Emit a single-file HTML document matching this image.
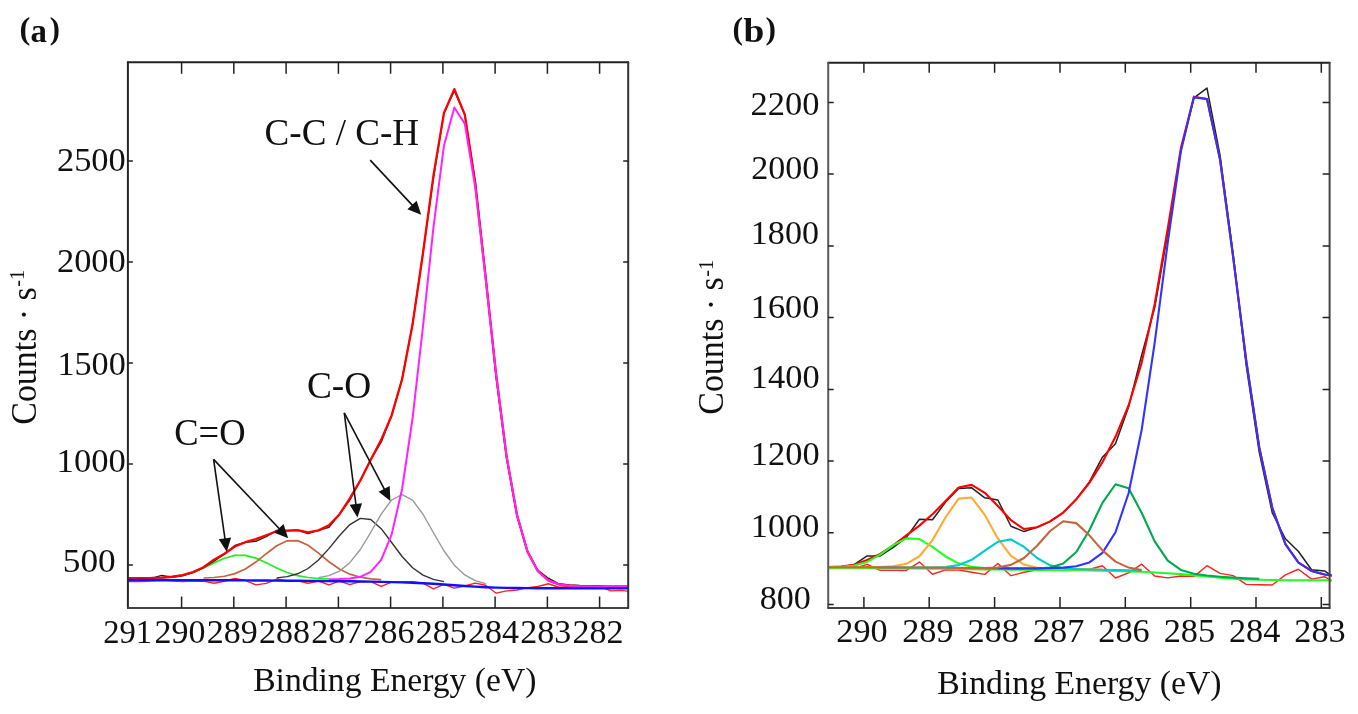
<!DOCTYPE html>
<html><head><meta charset="utf-8"><style>
html,body{margin:0;padding:0;background:#fff;width:1358px;height:714px;overflow:hidden}
svg{display:block;will-change:transform}
</style></head><body>
<svg width="1358" height="714" viewBox="0 0 1358 714">
<defs>
<clipPath id="clipA"><rect x="127.9" y="62.2" width="500.3" height="545.7"/></clipPath>
<clipPath id="clipB"><rect x="828.2" y="62.7" width="503.4" height="545.2"/></clipPath>
</defs>
<rect width="1358" height="714" fill="#fff"/>
<g clip-path="url(#clipA)">
<polyline points="119.94,581.48 130.39,581.50 140.84,581.52 151.30,581.05 161.75,580.57 172.19,581.09 182.64,581.61 193.09,581.14 203.55,581.18 214.00,583.22 224.44,581.25 234.89,578.33 245.34,580.41 255.80,584.86 266.25,583.32 276.69,579.03 287.14,580.72 297.59,580.81 308.05,583.29 318.50,580.99 328.94,584.87 339.39,581.19 349.84,584.70 360.30,581.47 370.75,581.67 381.19,586.45 391.64,582.10 402.09,581.90 412.55,581.76 423.00,583.22 433.44,588.78 443.89,584.45 454.34,588.19 464.80,585.95 475.25,583.14 485.69,585.19 496.14,593.19 506.59,590.88 517.05,590.03 527.50,587.64 537.94,586.49 548.39,583.73 558.84,587.26 569.30,586.78 579.75,586.80 590.19,586.82 600.64,586.86 611.09,590.86 621.55,590.39 632.00,591.81 642.44,591.83" fill="none" stroke="#ff2020" stroke-width="1.4" stroke-linejoin="round" />
<polyline points="161.75,577.60 172.19,576.76 182.64,575.06 193.09,572.14 203.55,567.91 214.00,562.90 224.44,558.23 234.89,555.36 245.34,555.32 255.80,558.14 266.25,562.85 276.69,568.02 287.14,572.44 297.59,575.58 308.05,577.48 318.50,578.48 328.94,578.97" fill="none" stroke="#22ee22" stroke-width="1.7" stroke-linejoin="round" />
<polyline points="203.55,578.00 214.00,577.50 224.44,576.24 234.89,573.60 245.34,568.95 255.80,562.06 266.25,553.71 276.69,545.80 287.14,540.83 297.59,540.61 308.05,545.26 318.50,553.12 328.94,561.72 339.39,569.02 349.84,574.14 360.30,577.20 370.75,578.82 381.19,579.64" fill="none" stroke="#c8643c" stroke-width="1.7" stroke-linejoin="round" />
<polyline points="276.69,577.88 287.14,576.60 297.59,573.79 308.05,568.50 318.50,560.05 328.94,548.60 339.39,535.76 349.84,524.57 360.30,518.37 370.75,519.54 381.19,528.69 391.64,542.50 402.09,556.54 412.55,567.72 423.00,575.09 433.44,579.35 443.89,581.65" fill="none" stroke="#333" stroke-width="1.4" stroke-linejoin="round" />
<polyline points="318.50,577.77 328.94,575.68 339.39,571.12 349.84,562.69 360.30,549.50 370.75,532.27 381.19,514.11 391.64,500.00 402.09,494.70 412.55,500.08 423.00,514.22 433.44,532.73 443.89,550.77 454.34,565.18 464.80,574.94 475.25,580.69 485.69,583.71" fill="none" stroke="#999" stroke-width="1.4" stroke-linejoin="round" />
<polyline points="119.94,578.83 130.39,578.84 140.84,578.81 151.30,578.45 161.75,575.35 172.19,577.25 182.64,575.78 193.09,572.55 203.55,567.75 214.00,561.16 224.44,554.26 234.89,545.48 245.34,542.23 255.80,541.29 266.25,536.65 276.69,530.43 287.14,530.71 297.59,530.22 308.05,533.56 318.50,530.39 328.94,527.25 339.39,514.43 349.84,500.12 360.30,480.51 370.75,459.68 381.19,442.16 391.64,415.44 402.09,378.97 412.55,324.08 423.00,252.98 433.44,178.06 443.89,113.32 454.34,90.63 464.80,114.64 475.25,181.62 485.69,276.56 496.14,377.39 506.59,458.05 517.05,516.26 527.50,551.34 537.94,570.31 548.39,578.19 558.84,583.81 569.30,585.00 579.75,585.48 590.19,585.63 600.64,585.69 611.09,587.71 621.55,587.49 632.00,588.21 642.44,588.23" fill="none" stroke="#222" stroke-width="1.4" stroke-linejoin="round" />
<polyline points="119.94,578.08 130.39,578.09 140.84,578.06 151.30,577.95 161.75,577.60 172.19,576.75 182.64,575.04 193.09,572.05 203.55,567.24 214.00,559.66 224.44,553.77 234.89,546.48 245.34,542.22 255.80,539.09 266.25,535.26 276.69,531.23 287.14,530.71 297.59,530.22 308.05,532.37 318.50,530.39 328.94,525.36 339.39,514.43 349.84,498.42 360.30,480.51 370.75,459.67 381.19,439.86 391.64,415.44 402.09,379.22 412.55,324.58 423.00,252.98 433.44,175.57 443.89,113.32 454.34,89.13 464.80,114.64 475.25,183.37 485.69,277.56 496.14,374.59 506.59,456.55 517.05,515.27 527.50,551.59 537.94,571.17 548.39,580.44 558.84,584.31 569.30,585.75 579.75,586.23 590.19,586.38 600.64,586.44 611.09,586.46 621.55,586.49 632.00,586.51 642.44,586.53" fill="none" stroke="#ff0000" stroke-width="2.3" stroke-linejoin="round" />
<polyline points="328.94,579.13 339.39,579.06 349.84,578.58 360.30,576.83 370.75,571.86 381.19,559.79 391.64,534.55 402.09,488.99 412.55,418.51 423.00,326.31 433.44,227.29 443.89,146.01 454.34,107.53 464.80,123.83 475.25,187.43 485.69,279.15 496.14,375.14 506.59,456.71 517.05,515.31 527.50,551.60 537.94,571.17 548.39,580.44 558.84,584.31 569.30,585.75 579.75,586.23 590.19,586.38 600.64,586.44 611.09,586.46 621.55,586.49 632.00,586.51 642.44,586.53" fill="none" stroke="#ff22ff" stroke-width="2.0" stroke-linejoin="round" />
<polyline points="119.94,579.98 130.39,580.00 140.84,580.03 151.30,580.05 161.75,580.07 172.19,580.09 182.64,580.12 193.09,580.14 203.55,580.18 214.00,580.22 224.44,580.27 234.89,580.32 245.34,580.39 255.80,580.46 266.25,580.54 276.69,580.63 287.14,580.72 297.59,580.81 308.05,580.90 318.50,580.99 328.94,581.09 339.39,581.19 349.84,581.31 360.30,581.46 370.75,581.65 381.19,581.86 391.64,582.10 402.09,582.40 412.55,582.76 423.00,583.22 433.44,583.80 443.89,584.45 454.34,585.20 464.80,585.95 475.25,586.63 485.69,587.19 496.14,587.60 506.59,587.88 517.05,588.04 527.50,588.14 537.94,588.20 548.39,588.23 558.84,588.26 569.30,588.28 579.75,588.30 590.19,588.32 600.64,588.35 611.09,588.37 621.55,588.39 632.00,588.41 642.44,588.43" fill="none" stroke="#1010ff" stroke-width="2.4" stroke-linejoin="round" />
</g>
<path d="M127.9 62.2H628.2" stroke="#222" stroke-width="2" stroke-linecap="round"/><path d="M127.9 62.2V607.9" stroke="#262626" stroke-width="2" stroke-linecap="round"/><path d="M127.9 607.9H628.2" stroke="#444" stroke-width="2" stroke-linecap="round"/><path d="M628.2 62.2V607.9" stroke="#333" stroke-width="2" stroke-linecap="round"/>
<path d="M599.6 607.9V596.4M599.6 62.2V73.7M547.4 607.9V596.4M547.4 62.2V73.7M495.1 607.9V596.4M495.1 62.2V73.7M442.9 607.9V596.4M442.9 62.2V73.7M390.6 607.9V596.4M390.6 62.2V73.7M338.4 607.9V596.4M338.4 62.2V73.7M286.1 607.9V596.4M286.1 62.2V73.7M233.8 607.9V596.4M233.8 62.2V73.7M181.6 607.9V596.4M181.6 62.2V73.7M127.9 565.0H132.9M628.2 565.0H623.2M127.9 464.0H132.9M628.2 464.0H623.2M127.9 363.0H132.9M628.2 363.0H623.2M127.9 262.0H132.9M628.2 262.0H623.2M127.9 161.0H132.9M628.2 161.0H623.2" stroke="#222" stroke-width="1.5" fill="none"/>
<g clip-path="url(#clipB)">
<polyline points="814.89,568.30 827.96,568.30 841.03,568.30 854.10,568.30 867.17,564.32 880.24,570.34 893.31,570.38 906.38,570.46 919.45,562.09 932.52,574.26 945.59,569.81 958.66,569.98 971.73,572.20 984.80,574.39 997.87,563.58 1010.94,575.68 1024.01,572.29 1037.08,569.89 1050.15,569.99 1063.22,570.12 1076.29,570.28 1089.36,569.47 1102.43,565.72 1115.50,577.99 1128.57,572.88 1141.64,564.16 1154.71,576.03 1167.78,577.89 1180.85,575.97 1193.92,576.62 1206.99,565.67 1220.06,573.39 1233.13,575.68 1246.20,584.35 1259.27,584.81 1272.34,585.03 1285.41,574.88 1298.48,569.26 1311.55,579.07 1324.62,576.72 1337.69,584.30" fill="none" stroke="#ff2020" stroke-width="1.4" stroke-linejoin="round" />
<polyline points="814.89,567.09 827.96,567.01 841.03,566.64 854.10,564.67 867.17,555.94 880.24,555.99 893.31,547.40 906.38,537.36 919.45,519.19 932.52,519.81 945.59,502.09 958.66,488.55 971.73,487.86 984.80,497.86 997.87,499.96 1010.94,526.23 1024.01,531.57 1037.08,527.31 1050.15,521.40 1063.22,512.58 1076.29,499.32 1089.36,481.87 1102.43,457.20 1115.50,443.83 1128.57,407.01 1141.64,355.16 1154.71,307.56 1167.78,233.02 1180.85,150.14 1193.92,97.94 1206.99,88.03 1220.06,155.29 1233.13,253.84 1246.20,365.41 1259.27,452.41 1272.34,513.03 1285.41,538.74 1298.48,551.55 1311.55,569.76 1324.62,570.93 1337.69,579.99" fill="none" stroke="#222" stroke-width="1.5" stroke-linejoin="round" />
<polyline points="814.89,567.09 827.96,567.01 841.03,566.64 854.10,564.67 867.17,559.93 880.24,553.99 893.31,545.40 906.38,535.36 919.45,525.64 932.52,514.22 945.59,501.08 958.66,487.55 971.73,484.86 984.80,492.86 997.87,505.94 1010.94,520.24 1024.01,529.07 1037.08,527.30 1050.15,521.40 1063.22,512.58 1076.29,499.32 1089.36,482.87 1102.43,462.17 1115.50,436.84 1128.57,405.50 1141.64,362.83 1154.71,303.96 1167.78,228.32 1180.85,148.34 1193.92,96.66 1206.99,98.92 1220.06,159.61 1233.13,256.82 1246.20,360.41 1259.27,447.41 1272.34,508.06 1285.41,544.04 1298.48,562.54 1311.55,570.96 1324.62,574.50 1337.69,575.99" fill="none" stroke="#ff0000" stroke-width="2.1" stroke-linejoin="round" />
<polyline points="814.89,568.30 827.96,568.30 841.03,568.30 854.10,568.30 867.17,568.31 880.24,568.34 893.31,568.38 906.38,568.46 919.45,568.55 932.52,568.66 945.59,568.80 958.66,568.98 971.73,569.19 984.80,569.39 997.87,569.56 1010.94,569.69 1024.01,569.80 1037.08,569.89 1050.15,569.99 1063.22,570.12 1076.29,570.28 1089.36,570.46 1102.43,570.70 1115.50,570.99 1128.57,571.37 1141.64,571.82 1154.71,572.43 1167.78,573.19 1180.85,574.17 1193.92,575.33 1206.99,576.56 1220.06,577.71 1233.13,578.66 1246.20,579.35 1259.27,579.81 1272.34,580.06 1285.41,580.19 1298.48,580.25 1311.55,580.28 1324.62,580.30 1337.69,580.30" fill="none" stroke="#22ff22" stroke-width="2.1" stroke-linejoin="round" />
<polyline points="814.89,567.29 827.96,567.23 841.03,566.89 854.10,565.58 867.17,561.89 880.24,554.63 893.31,545.12 906.38,538.33 919.45,539.07 932.52,546.86 945.59,556.45 958.66,563.35 971.73,566.78 984.80,568.07 997.87,568.50 1010.94,568.68 1024.01,568.80 1037.08,568.89 1050.15,568.99" fill="none" stroke="#22ff22" stroke-width="2.1" stroke-linejoin="round" />
<polyline points="827.96,567.21 841.03,567.19 854.10,567.17 867.17,567.13 880.24,567.01 893.31,566.38 906.38,563.84 919.45,556.23 932.52,540.12 945.59,517.26 958.66,498.65 971.73,497.56 984.80,515.00 997.87,538.41 1010.94,555.87 1024.01,564.58 1037.08,567.71 1050.15,568.62 1063.22,568.93 1076.29,569.14 1089.36,569.35 1102.43,569.61" fill="none" stroke="#ffaa33" stroke-width="2.1" stroke-linejoin="round" />
<polyline points="880.24,567.34 893.31,567.38 906.38,567.46 919.45,567.53 932.52,567.53 945.59,567.08 958.66,565.09 971.73,559.78 984.80,550.73 997.87,541.76 1010.94,539.37 1024.01,546.88 1037.08,557.98 1050.15,565.37 1063.22,568.32 1076.29,569.16 1089.36,569.45 1102.43,569.69 1115.50,569.99 1128.57,570.37 1141.64,570.82" fill="none" stroke="#00cccc" stroke-width="2.1" stroke-linejoin="round" />
<polyline points="984.80,568.39 997.87,568.56 1010.94,568.69 1024.01,568.76 1037.08,568.62 1050.15,567.58 1063.22,563.43 1076.29,552.06 1089.36,530.31 1102.43,502.83 1115.50,484.27 1128.57,488.18 1141.64,512.81 1154.71,541.32 1167.78,560.70 1180.85,569.95 1193.92,573.67 1206.99,575.46 1220.06,576.70 1233.13,577.66 1246.20,578.35 1259.27,578.81" fill="none" stroke="#00a850" stroke-width="2.1" stroke-linejoin="round" />
<polyline points="997.87,568.12 1010.94,568.19 1024.01,568.22 1037.08,568.20 1050.15,568.08 1063.22,567.66 1076.29,566.30 1089.36,562.45 1102.43,552.90 1115.50,532.22 1128.57,493.26 1141.64,430.02 1154.71,342.66 1167.78,242.34 1180.85,151.60 1193.92,97.35 1206.99,99.05 1220.06,159.65 1233.13,256.85 1246.20,360.43 1259.27,447.43 1272.34,508.08 1285.41,544.06 1298.48,562.56 1311.55,570.98 1324.62,574.52 1337.69,576.00" fill="none" stroke="#3333ff" stroke-width="2.1" stroke-linejoin="round" />
<polyline points="814.89,567.30 827.96,567.30 841.03,567.30 854.10,567.30 867.17,567.31 880.24,567.34 893.31,567.38 906.38,567.46 919.45,567.55 932.52,567.66 945.59,567.80 958.66,567.98 971.73,568.16 984.80,568.17 997.87,567.51 1010.94,564.85 1024.01,558.04 1037.08,545.80 1050.15,531.01 1063.22,521.28 1076.29,523.12 1089.36,535.35 1102.43,550.39 1115.50,561.62 1128.57,567.59 1141.64,570.12" fill="none" stroke="#c8643c" stroke-width="2.1" stroke-linejoin="round" />
</g>
<path d="M828.2 62.7H1329.6" stroke="#222" stroke-width="2" stroke-linecap="round"/><path d="M828.2 62.7V607.9" stroke="#5a5a5a" stroke-width="2" stroke-linecap="round"/><path d="M828.2 607.9H1329.6" stroke="#444" stroke-width="2" stroke-linecap="round"/><path d="M1329.6 62.7V607.9" stroke="#444" stroke-width="2" stroke-linecap="round"/>
<path d="M1321.3 607.9V596.9M1321.3 62.7V72.7M1256.0 607.9V596.9M1256.0 62.7V72.7M1190.7 607.9V596.9M1190.7 62.7V72.7M1125.3 607.9V596.9M1125.3 62.7V72.7M1060.0 607.9V596.9M1060.0 62.7V72.7M994.6 607.9V596.9M994.6 62.7V72.7M929.2 607.9V596.9M929.2 62.7V72.7M863.9 607.9V596.9M863.9 62.7V72.7M828.2 604.6H833.7M1329.6 604.6H1322.6M828.2 532.8H833.7M1329.6 532.8H1322.6M828.2 461.1H833.7M1329.6 461.1H1322.6M828.2 389.4H833.7M1329.6 389.4H1322.6M828.2 317.6H833.7M1329.6 317.6H1322.6M828.2 245.9H833.7M1329.6 245.9H1322.6M828.2 174.1H833.7M1329.6 174.1H1322.6M828.2 102.4H833.7M1329.6 102.4H1322.6" stroke="#222" stroke-width="1.5" fill="none"/>
<text x="91.35" y="170.90" font-family="Liberation Serif" font-size="33.30" text-anchor="middle" textLength="68.85" lengthAdjust="spacingAndGlyphs" fill="#111">2500</text>
<text x="91.35" y="272.20" font-family="Liberation Serif" font-size="33.30" text-anchor="middle" textLength="68.84" lengthAdjust="spacingAndGlyphs" fill="#111">2000</text>
<text x="91.60" y="375.00" font-family="Liberation Serif" font-size="33.30" text-anchor="middle" textLength="68.41" lengthAdjust="spacingAndGlyphs" fill="#111">1500</text>
<text x="91.20" y="472.30" font-family="Liberation Serif" font-size="33.30" text-anchor="middle" textLength="69.26" lengthAdjust="spacingAndGlyphs" fill="#111">1000</text>
<text x="89.30" y="572.20" font-family="Liberation Serif" font-size="33.30" text-anchor="middle" textLength="53.00" lengthAdjust="spacingAndGlyphs" fill="#111">500</text>
<text x="785.10" y="115.40" font-family="Liberation Serif" font-size="33.30" text-anchor="middle" textLength="68.94" lengthAdjust="spacingAndGlyphs" fill="#111">2200</text>
<text x="785.30" y="178.90" font-family="Liberation Serif" font-size="33.30" text-anchor="middle" textLength="68.11" lengthAdjust="spacingAndGlyphs" fill="#111">2000</text>
<text x="784.90" y="244.10" font-family="Liberation Serif" font-size="33.30" text-anchor="middle" textLength="68.18" lengthAdjust="spacingAndGlyphs" fill="#111">1800</text>
<text x="785.10" y="318.00" font-family="Liberation Serif" font-size="33.30" text-anchor="middle" textLength="68.63" lengthAdjust="spacingAndGlyphs" fill="#111">1600</text>
<text x="785.20" y="388.00" font-family="Liberation Serif" font-size="33.30" text-anchor="middle" textLength="68.82" lengthAdjust="spacingAndGlyphs" fill="#111">1400</text>
<text x="785.20" y="464.90" font-family="Liberation Serif" font-size="33.30" text-anchor="middle" textLength="68.82" lengthAdjust="spacingAndGlyphs" fill="#111">1200</text>
<text x="785.10" y="537.40" font-family="Liberation Serif" font-size="33.30" text-anchor="middle" textLength="68.63" lengthAdjust="spacingAndGlyphs" fill="#111">1000</text>
<text x="785.30" y="609.00" font-family="Liberation Serif" font-size="33.30" text-anchor="middle" textLength="51.20" lengthAdjust="spacingAndGlyphs" fill="#111">800</text>
<text x="127.60" y="642.60" font-family="Liberation Serif" font-size="33.30" text-anchor="middle" textLength="48.88" lengthAdjust="spacingAndGlyphs" fill="#111">291</text>
<text x="180.05" y="642.60" font-family="Liberation Serif" font-size="33.30" text-anchor="middle" textLength="50.99" lengthAdjust="spacingAndGlyphs" fill="#111">290</text>
<text x="862.05" y="642.20" font-family="Liberation Serif" font-size="33.30" text-anchor="middle" textLength="51.41" lengthAdjust="spacingAndGlyphs" fill="#111">290</text>
<text x="253.15" y="690.60" font-family="Liberation Serif" font-size="32.80" text-anchor="start" textLength="283.23" lengthAdjust="spacingAndGlyphs" fill="#111">Binding Energy (eV)</text>
<text x="937.30" y="694.10" font-family="Liberation Serif" font-size="32.80" text-anchor="start" textLength="284.32" lengthAdjust="spacingAndGlyphs" fill="#111">Binding Energy (eV)</text>
<text x="264.55" y="144.80" font-family="Liberation Serif" font-size="37.00" text-anchor="start" textLength="154.53" lengthAdjust="spacingAndGlyphs" fill="#111">C-C / C-H</text>
<text x="306.95" y="397.90" font-family="Liberation Serif" font-size="37.00" text-anchor="start" textLength="64.27" lengthAdjust="spacingAndGlyphs" fill="#111">C-O</text>
<text x="174.25" y="445.20" font-family="Liberation Serif" font-size="37.00" text-anchor="start" textLength="71.25" lengthAdjust="spacingAndGlyphs" fill="#111">C=O</text>
<text transform="translate(35.80,424.70) rotate(-90)" font-family="Liberation Serif" font-size="34.75" textLength="137.44" lengthAdjust="spacingAndGlyphs" fill="#111">Counts · s</text>
<text transform="translate(24.20,286.80) rotate(-90)" font-family="Liberation Serif" font-size="21.96" textLength="16.89" lengthAdjust="spacingAndGlyphs" fill="#111">-1</text>
<text transform="translate(723.40,414.70) rotate(-90)" font-family="Liberation Serif" font-size="34.75" textLength="137.44" lengthAdjust="spacingAndGlyphs" fill="#111">Counts · s</text>
<text transform="translate(712.70,276.80) rotate(-90)" font-family="Liberation Serif" font-size="21.96" textLength="16.89" lengthAdjust="spacingAndGlyphs" fill="#111">-1</text>
<text x="19.40" y="39.00" font-family="Liberation Serif" font-size="30.50" text-anchor="start" font-weight="bold" textLength="10.85" lengthAdjust="spacingAndGlyphs" fill="#111">(</text>
<text x="30.60" y="41.60" font-family="Liberation Serif" font-size="34.50" text-anchor="start" font-weight="bold" textLength="16.44" lengthAdjust="spacingAndGlyphs" fill="#111">a</text>
<text x="49.70" y="39.00" font-family="Liberation Serif" font-size="30.50" text-anchor="start" font-weight="bold" textLength="10.21" lengthAdjust="spacingAndGlyphs" fill="#111">)</text>
<text x="732.60" y="39.00" font-family="Liberation Serif" font-size="30.50" text-anchor="start" font-weight="bold" textLength="10.51" lengthAdjust="spacingAndGlyphs" fill="#111">(</text>
<text x="743.40" y="41.60" font-family="Liberation Serif" font-size="34.50" text-anchor="start" font-weight="bold" textLength="20.82" lengthAdjust="spacingAndGlyphs" fill="#111">b</text>
<text x="765.40" y="39.00" font-family="Liberation Serif" font-size="30.50" text-anchor="start" font-weight="bold" textLength="10.51" lengthAdjust="spacingAndGlyphs" fill="#111">)</text>
<text x="598.00" y="642.60" font-family="Liberation Serif" font-size="33.30" text-anchor="middle" textLength="50.99" lengthAdjust="spacingAndGlyphs" fill="#111">282</text>
<text x="545.75" y="642.60" font-family="Liberation Serif" font-size="33.30" text-anchor="middle" textLength="50.99" lengthAdjust="spacingAndGlyphs" fill="#111">283</text>
<text x="493.50" y="642.60" font-family="Liberation Serif" font-size="33.30" text-anchor="middle" textLength="50.99" lengthAdjust="spacingAndGlyphs" fill="#111">284</text>
<text x="441.25" y="642.60" font-family="Liberation Serif" font-size="33.30" text-anchor="middle" textLength="50.99" lengthAdjust="spacingAndGlyphs" fill="#111">285</text>
<text x="389.00" y="642.60" font-family="Liberation Serif" font-size="33.30" text-anchor="middle" textLength="50.99" lengthAdjust="spacingAndGlyphs" fill="#111">286</text>
<text x="336.75" y="642.60" font-family="Liberation Serif" font-size="33.30" text-anchor="middle" textLength="50.99" lengthAdjust="spacingAndGlyphs" fill="#111">287</text>
<text x="284.50" y="642.60" font-family="Liberation Serif" font-size="33.30" text-anchor="middle" textLength="50.99" lengthAdjust="spacingAndGlyphs" fill="#111">288</text>
<text x="232.25" y="642.60" font-family="Liberation Serif" font-size="33.30" text-anchor="middle" textLength="50.99" lengthAdjust="spacingAndGlyphs" fill="#111">289</text>
<text x="1320.05" y="642.20" font-family="Liberation Serif" font-size="33.30" text-anchor="middle" textLength="51.41" lengthAdjust="spacingAndGlyphs" fill="#111">283</text>
<text x="1254.70" y="642.20" font-family="Liberation Serif" font-size="33.30" text-anchor="middle" textLength="51.41" lengthAdjust="spacingAndGlyphs" fill="#111">284</text>
<text x="1189.35" y="642.20" font-family="Liberation Serif" font-size="33.30" text-anchor="middle" textLength="51.41" lengthAdjust="spacingAndGlyphs" fill="#111">285</text>
<text x="1124.00" y="642.20" font-family="Liberation Serif" font-size="33.30" text-anchor="middle" textLength="51.41" lengthAdjust="spacingAndGlyphs" fill="#111">286</text>
<text x="1058.65" y="642.20" font-family="Liberation Serif" font-size="33.30" text-anchor="middle" textLength="51.41" lengthAdjust="spacingAndGlyphs" fill="#111">287</text>
<text x="993.30" y="642.20" font-family="Liberation Serif" font-size="33.30" text-anchor="middle" textLength="51.41" lengthAdjust="spacingAndGlyphs" fill="#111">288</text>
<text x="927.95" y="642.20" font-family="Liberation Serif" font-size="33.30" text-anchor="middle" textLength="51.41" lengthAdjust="spacingAndGlyphs" fill="#111">289</text>
<line x1="370.2" y1="160.1" x2="413.4" y2="206.4" stroke="#111" stroke-width="1.6"/><polygon points="421.2,214.8 407.4,209.2 416.6,200.7" fill="#111"/>
<line x1="344.3" y1="412.9" x2="356.1" y2="506.0" stroke="#111" stroke-width="1.6"/><polygon points="357.5,517.4 349.6,504.8 362.0,503.2" fill="#111"/>
<line x1="344.3" y1="412.9" x2="385.1" y2="490.7" stroke="#111" stroke-width="1.6"/><polygon points="390.4,500.9 378.6,491.8 389.7,486.0" fill="#111"/>
<line x1="213.6" y1="459.4" x2="225.2" y2="540.4" stroke="#111" stroke-width="1.6"/><polygon points="226.8,551.8 218.7,539.3 231.1,537.6" fill="#111"/>
<line x1="213.6" y1="459.4" x2="280.3" y2="529.8" stroke="#111" stroke-width="1.6"/><polygon points="288.2,538.2 274.4,532.7 283.5,524.1" fill="#111"/>
</svg>
</body></html>
